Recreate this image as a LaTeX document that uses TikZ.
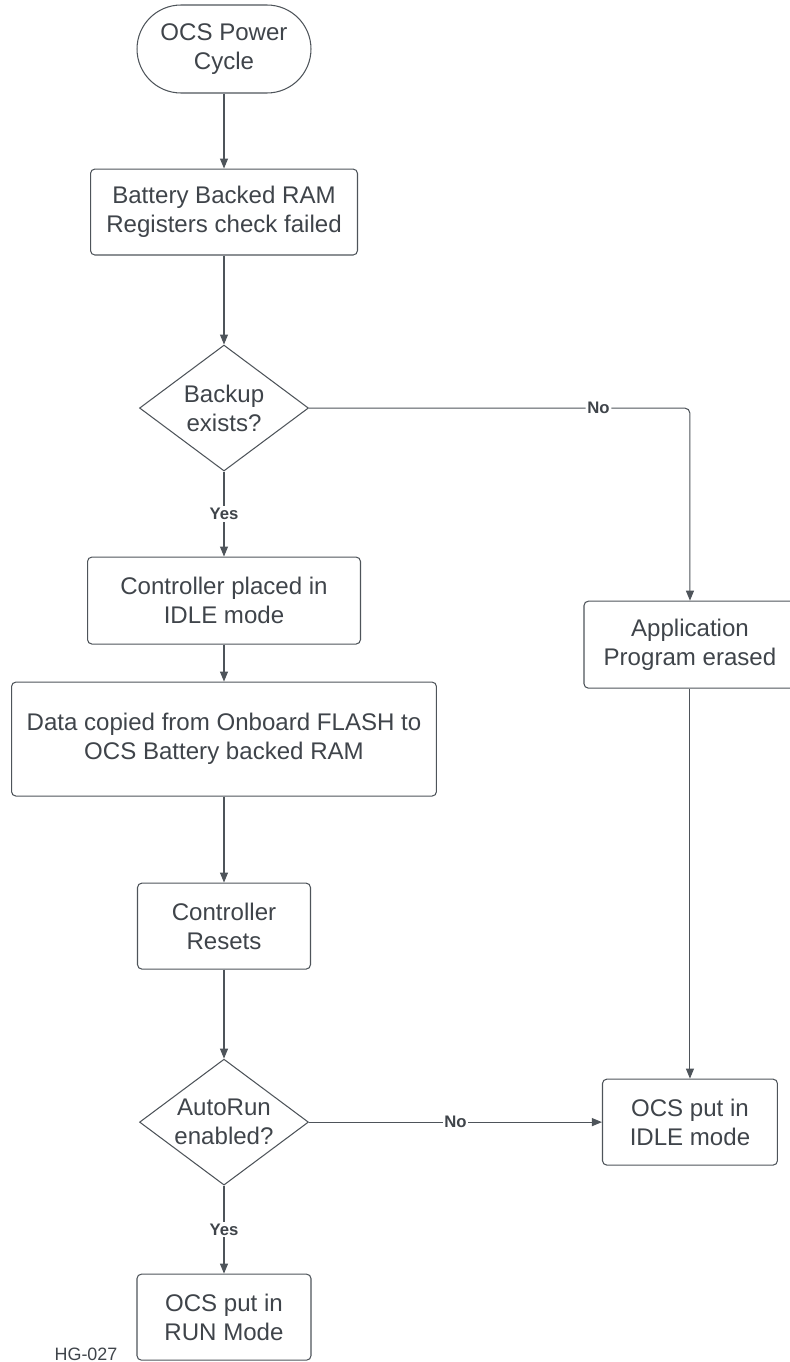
\documentclass[tikz,border=0pt]{standalone}
\usepackage{fontspec}
\setmainfont{Liberation Sans}
\usetikzlibrary{arrows.meta,positioning,shapes.geometric,calc}
\definecolor{Ink}{HTML}{3F444A}
\definecolor{Edge}{HTML}{4E545A}

\begin{document}
\begin{tikzpicture}[
  x=0.02cm,y=-0.02cm,
  font=\fontsize{13.7}{16.4}\selectfont,
  every node/.style={text=Ink},
  box/.style={draw=Edge,semithick,rounded corners=2.5pt,minimum height=1.72cm,align=center,inner sep=2pt},
  term/.style={draw=Edge,semithick,rounded corners=0.88cm,minimum width=3.48cm,minimum height=1.76cm,align=center},
  decide/.style={draw=Edge,semithick,diamond,aspect=1.35,inner sep=0pt,minimum width=3.38cm,minimum height=2.52cm,align=center},
  arr/.style={-{Triangle[length=2mm,width=1.6mm]},semithick,draw=Edge},
  tag/.style={font=\fontsize{9.5}{11}\selectfont\bfseries,fill=white,inner sep=1pt}
]
\useasboundingbox (0,0) rectangle (789,1362);
\node[term] (cycle) at (224,49) {OCS Power\\Cycle};
\node[box,minimum width=5.34cm,below=1.5cm of cycle] (bbram) {Battery Backed RAM\\Registers check failed};
\node[decide,below=1.78cm of bbram] (backup) {Backup\\exists?};
\node[box,minimum width=5.46cm,minimum height=1.74cm,below=1.7cm of backup] (idle) {Controller placed in\\IDLE mode};
\node[box,minimum width=8.5cm,minimum height=2.28cm,below=0.74cm of idle] (copy) {Data copied from Onboard FLASH to\\OCS Battery backed RAM};
\node[box,minimum width=3.46cm,below=1.72cm of copy] (reset) {Controller\\Resets};
\node[decide,below=1.78cm of reset] (autorun) {AutoRun\\enabled?};
\node[box,minimum width=3.48cm,below=1.76cm of autorun] (run) {OCS put in\\RUN Mode};
\node[box,minimum width=3.5cm,right=5.86cm of autorun] (idle2) {OCS put in\\IDLE mode};
\node[box,minimum width=4.24cm,minimum height=1.74cm,above=7.8cm of idle2] (erase) {Application\\Program erased};
\node[font=\fontsize{10.2}{12}\selectfont,anchor=base] (code) at (86,1360) {HG-027};

\draw[arr] (cycle) -- (bbram);
\draw[arr] (bbram) -- (backup);
\draw[arr] (backup) -- node[tag]{Yes} (idle);
\draw[arr] (idle) -- (copy);
\draw[arr] (copy) -- (reset);
\draw[arr] (reset) -- (autorun);
\draw[arr] (autorun) -- node[tag]{Yes} (run);
\draw[arr,rounded corners=3pt] (backup.east) -| node[tag,pos=0.38]{No} (erase.north);
\draw[arr] (erase) -- (idle2);
\draw[arr] (autorun) -- node[tag]{No} (idle2);
\end{tikzpicture}
\end{document}
